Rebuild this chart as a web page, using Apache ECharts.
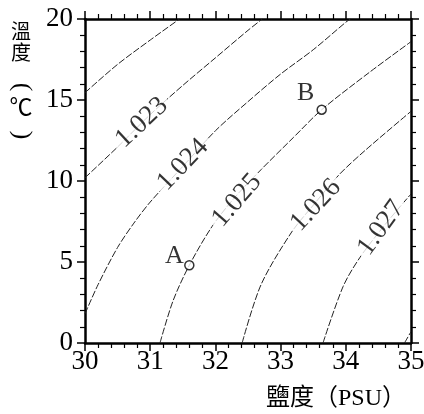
<!DOCTYPE html>
<html><head><meta charset="utf-8">
<script src="https://cdn.jsdelivr.net/npm/echarts@6/dist/echarts.min.js"></script>
<style>html,body{margin:0;padding:0;background:#fff}#c{width:424px;height:414px}</style>
</head><body><div id="c"></div>
<script>
// ---- data (salinity PSU, temperature °C) ----
const xRange = [30, 35];
const yRange = [0, 20];
const c1022 = [[30,15.45],[30.5,17.2],[31,18.7],[31.45,20]];
const c1023 = [[30,10.2],[30.5,12.1],[31,14.1],[31.5,15.9],[32,17.6],[32.5,19.3],[32.72,20]];
const c1024 = [[30,1.8],[30.2,3.6],[30.5,5.9],[30.75,7.4],[31,8.7],[31.5,10.9],[32,13.1],[32.5,14.9],[33,16.6],[33.5,18.1],[34,19.8],[34.07,20]];
const c1025 = [[31.15,0],[31.35,2.6],[31.6,4.8],[31.95,7.2],[32.3,9.0],[32.7,10.7],[33.2,12.7],[33.63,14.4],[34.36,16.7],[35,18.6]];
const c1026 = [[32.41,0],[32.7,3.6],[33.17,6.85],[33.5,8.5],[33.9,10.4],[34.3,11.9],[35,14.3]];
const c1027 = [[33.65,0],[33.96,3.5],[34.22,5.3],[34.6,7.3],[35,9.2]];
const c1028 = [[34.9,0],[35,0.7]];
const contourNames = ['1.023','1.024','1.025','1.026','1.027'];
const contourLabelAt = [[30.87,13.6],[31.5,11.0],[32.33,8.8],[33.54,8.5],[34.54,7.1]];
const pointNames = ['A','B'];
const points = [[31.6,4.8],[33.63,14.4]];
const xAxisName = '鹽度（PSU）';
const yAxisNameChars = ['溫','度','(','℃',')'];

// ---- styles ----
const labelRot = [43,46,49,47,54];
const pointLabelOffset = [[-15,-9],[-16,-17]];
const serif = '"Liberation Serif","Times New Roman",serif';
const cjk = '"Noto Sans CJK TC","Noto Sans CJK SC",sans-serif';

const chart = echarts.init(document.getElementById('c'), null, {renderer:'canvas'});
function axisCommon(pos, showLabel, interval){
  const isX = pos==='bottom'||pos==='top';
  return {
    type:'value', position:pos, min: isX?xRange[0]:yRange[0], max: isX?xRange[1]:yRange[1], interval: interval,
    axisLine:{show:true, onZero:false, lineStyle:{color:'#000', width:2.5}},
    axisTick:{show:true, inside:false, length:8, lineStyle:{color:'#000', width:1.5}},
    minorTick:{show:true, splitNumber:5, length:5, lineStyle:{color:'#000', width:1.2}},
    splitLine:{show:false}, minorSplitLine:{show:false},
    axisLabel:{show:showLabel, color:'#000', fontFamily:serif, fontSize:27, margin: (pos==='bottom'?5:12)}
  };
}
const lineSeries = [c1022,c1023,c1024,c1025,c1026,c1027,c1028].map(d=>({
  type:'line', data:d, xAxisIndex:0, yAxisIndex:0, showSymbol:false, symbol:'none',
  smooth:0.3, silent:true, z:2,
  lineStyle:{color:'#222', width:1, type:[7,2]}
}));
function txt(x, y, text, size, family, rot){
  return {type:'text', x:x, y:y, rotation:rot||0, silent:true, z:100,
    style:{text:text, fontSize:size, fontFamily:family, fill:'#000',
      align:'center', verticalAlign:'middle', textAlign:'center', textVerticalAlign:'middle'}};
}
const option = {
  animation:false,
  grid:{left:85, right:13, top:19, bottom:71, outerBoundsMode:'none', containLabel:false},
  xAxis:[axisCommon('bottom', true, 1), axisCommon('top', false, 1)],
  yAxis:[axisCommon('left', true, 5), axisCommon('right', false, 5)],
  series: lineSeries.concat([
    {
      type:'scatter', xAxisIndex:0, yAxisIndex:0, symbolSize:0, z:5, silent:true,
      data: contourLabelAt.map((p,i)=>({value:p, label:{rotate:labelRot[i], formatter:contourNames[i]}})),
      label:{show:true, position:'inside', color:'#000', fontFamily:serif, fontSize:27,
        backgroundColor:'#fff', padding:[0,4], lineHeight:20}
    },
    {
      type:'scatter', xAxisIndex:0, yAxisIndex:0, symbol:'circle', symbolSize:9, z:6, silent:true,
      itemStyle:{color:'#fff', borderColor:'#000', borderWidth:1.5},
      data: points.map((p,i)=>({value:p, name:pointNames[i],
        label:{show:true, position:'inside', offset:pointLabelOffset[i], formatter:pointNames[i]}})),
      label:{color:'#000', fontFamily:serif, fontSize:26}
    }
  ]),
  graphic:{elements:[
    txt(336, 399, xAxisName, 24, '"Liberation Serif","Noto Sans CJK TC",serif', 0),
    txt(21, 31, yAxisNameChars[0], 20, cjk, 0),
    txt(21, 52, yAxisNameChars[1], 20, cjk, 0),
    txt(22, 87, yAxisNameChars[2], 26, serif, -Math.PI/2),
    txt(21, 106, yAxisNameChars[3], 23, cjk, 0),
    txt(22, 135, yAxisNameChars[4], 26, serif, -Math.PI/2)
  ]}
};
chart.setOption(option);
</script></body></html>
